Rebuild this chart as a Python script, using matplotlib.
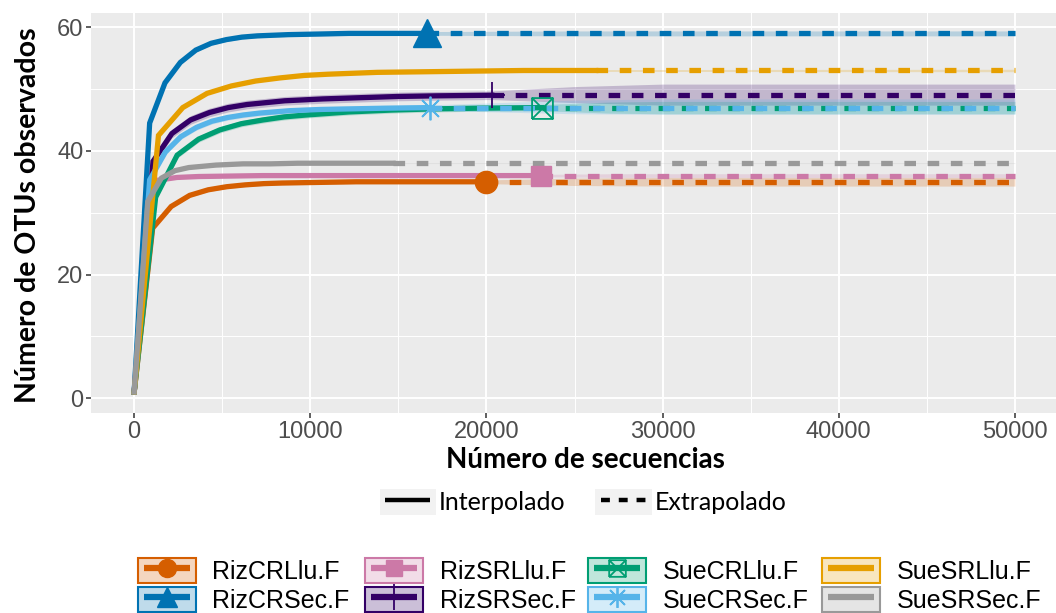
import numpy as np
import matplotlib.pyplot as plt
from matplotlib.colors import to_rgba
from matplotlib.legend_handler import HandlerLine2D
from matplotlib.lines import Line2D
from matplotlib.patches import Patch
from matplotlib.path import Path

# sample names and colours (legend order)
names = ['RizCRLlu.F', 'RizCRSec.F', 'RizSRLlu.F', 'RizSRSec.F',
         'SueCRLlu.F', 'SueCRSec.F', 'SueSRLlu.F', 'SueSRSec.F']
colors = ['#D55E00', '#0072B2', '#CC79A7', '#330066',
          '#009E73', '#56B4E9', '#E69F00', '#999999']

# interpolated (rarefaction) curves: sequences vs observed OTUs
orange_x = [1, 1050, 2100, 3150, 4200, 5250, 6300, 7350, 8400, 10500, 12600, 14700, 16800, 20000]
orange_y = [1, 27.5, 31.0, 32.8, 33.7, 34.2, 34.5, 34.7, 34.8, 34.9, 35.0, 35.0, 35.0, 35.0]
blue_x = [1, 880, 1750, 2620, 3500, 4370, 5240, 6120, 6990, 8740, 10500, 12200, 14000, 16600]
blue_y = [1, 44.5, 51.0, 54.3, 56.3, 57.4, 58.0, 58.4, 58.6, 58.8, 58.9, 59.0, 59.0, 59.0]
pink_x = [1, 1220, 2430, 3650, 4860, 6080, 7300, 8510, 9730, 12200, 14600, 17000, 19500, 23100]
pink_y = [1, 35.2, 35.7, 35.85, 35.9, 35.95, 36.0, 36.0, 36.0, 36.0, 36.0, 36.0, 36.0, 36.0]
purple_x = [1, 1070, 2140, 3200, 4270, 5340, 6410, 7480, 8550, 10700, 12800, 15000, 17100, 20300]
purple_y = [1, 38.3, 42.8, 45.0, 46.2, 47.0, 47.5, 47.8, 48.1, 48.4, 48.6, 48.8, 48.9, 49.0]
green_x = [1, 1220, 2440, 3660, 4870, 6090, 7310, 8530, 9750, 12200, 14600, 17100, 19500, 23150]
green_y = [1, 32.5, 39.3, 41.9, 43.4, 44.4, 45.0, 45.5, 45.8, 46.3, 46.6, 46.8, 46.9, 47.0]
sky_x = [1, 880, 1770, 2650, 3540, 4420, 5310, 6190, 7080, 8840, 10600, 12400, 14200, 16800]
sky_y = [1, 35.3, 39.8, 42.3, 43.8, 44.8, 45.4, 45.8, 46.1, 46.5, 46.7, 46.8, 46.9, 47.0]
yellow_x = [1, 1380, 2760, 4140, 5520, 6900, 8280, 9660, 11000, 13800, 16600, 19300, 22100, 26200]
yellow_y = [1, 42.5, 47.0, 49.3, 50.5, 51.3, 51.8, 52.2, 52.4, 52.7, 52.8, 52.9, 53.0, 53.0]
gray_x = [1, 770, 1550, 2320, 3100, 3870, 4640, 5420, 6190, 7740, 9290, 10800, 12400, 14700]
gray_y = [1, 31.8, 35.6, 36.8, 37.3, 37.5, 37.7, 37.8, 37.9, 37.9, 38.0, 38.0, 38.0, 38.0]

# half width of the confidence band along the interpolated part
band_in = [0.3, 0.3, 0.2, 0.7, 0.5, 0.45, 0.15, 0.05]

# extrapolated part (up to 50000 sequences) with its confidence band
orange_ex = [20000, 25000, 30000, 50000]
orange_lo = [34.6, 34.4, 34.3, 34.3]
orange_hi = [35.4, 35.6, 35.7, 35.7]
blue_ex = [16600, 25000, 30000, 50000]
blue_lo = [58.7, 58.6, 58.6, 58.6]
blue_hi = [59.3, 59.4, 59.4, 59.4]
pink_ex = [23100, 27000, 30000, 50000]
pink_lo = [35.8, 35.7, 35.7, 35.7]
pink_hi = [36.2, 36.3, 36.3, 36.3]
purple_ex = [20300, 25000, 30000, 50000]
purple_lo = [48.3, 47.8, 47.4, 47.4]
purple_hi = [49.7, 50.4, 50.8, 50.8]
green_ex = [23150, 27000, 30000, 50000]
green_lo = [46.5, 46.1, 46.0, 46.0]
green_hi = [47.5, 47.9, 48.0, 48.0]
sky_ex = [16800, 25000, 30000, 50000]
sky_lo = [46.4, 46.0, 45.9, 45.9]
sky_hi = [47.6, 48.2, 48.4, 48.4]
yellow_ex = [26200, 50000]
yellow_lo = [52.85, 52.8]
yellow_hi = [53.15, 53.2]
gray_ex = [14700, 50000]
gray_lo = [37.95, 37.95]
gray_hi = [38.05, 38.05]

xs = [orange_x, blue_x, pink_x, purple_x, green_x, sky_x, yellow_x, gray_x]
ys = [orange_y, blue_y, pink_y, purple_y, green_y, sky_y, yellow_y, gray_y]
exs = [orange_ex, blue_ex, pink_ex, purple_ex, green_ex, sky_ex, yellow_ex, gray_ex]
los = [orange_lo, blue_lo, pink_lo, purple_lo, green_lo, sky_lo, yellow_lo, gray_lo]
his = [orange_hi, blue_hi, pink_hi, purple_hi, green_hi, sky_hi, yellow_hi, gray_hi]

# point shapes: square with a cross drawn as a path, 8-ray asterisk
box_x = Path([(-1, -1), (1, -1), (1, 1), (-1, 1), (-1, -1),
              (-1, -1), (1, 1), (-1, 1), (1, -1)],
             [Path.MOVETO, Path.LINETO, Path.LINETO, Path.LINETO, Path.LINETO,
              Path.MOVETO, Path.LINETO, Path.MOVETO, Path.LINETO])
markers = ['o', '^', 's', '+', box_x, (8, 2, 0), None, None]
msizes = [16, 20, 15, 19, 15, 17, 0, 0]
key_ms = [13, 15, 12, 19, 12, 15, 0, 0]
thin = [False, False, False, True, True, True, False, False]


class KeyLine(HandlerLine2D):
    # legend line kept inside the key box
    def create_artists(self, legend, orig_handle, xdescent, ydescent, width,
                       height, fontsize, trans):
        pad = 0.22 * fontsize
        return super().create_artists(legend, orig_handle, xdescent - pad, ydescent,
                                      width - 2 * pad, height, fontsize, trans)


fig = plt.figure(figsize=(10.56, 6.13), dpi=100)
ax = fig.add_axes([91 / 1056, 1 - 413 / 613, 965 / 1056, 400 / 613])
ax.set_facecolor('#EBEBEB')
for s in ax.spines.values():
    s.set_visible(False)

ax.set_xlim(-2450, 52330)
ax.set_ylim(-2.4, 62.3)
ax.set_xticks([0, 10000, 20000, 30000, 40000, 50000])
ax.set_xticks([5000, 15000, 25000, 35000, 45000], minor=True)
ax.set_yticks([0, 20, 40, 60])
ax.set_yticks([10, 30, 50], minor=True)
ax.grid(which='major', color='white', lw=1.4)
ax.grid(which='minor', color='white', lw=0.7)
ax.set_axisbelow(True)
ax.tick_params(which='major', length=3.5, width=1.1, color='#333333',
               labelcolor='#4D4D4D', labelsize=17, pad=2)
ax.tick_params(which='minor', length=0)
for lab in ax.get_xticklabels() + ax.get_yticklabels():
    lab.set_family('Liberation Sans')

# confidence bands
for i in range(len(names)):
    bx = np.concatenate([xs[i], exs[i][1:]])
    yi = np.array(ys[i])
    lo = np.concatenate([yi - band_in[i], los[i][1:]])
    hi = np.concatenate([yi + band_in[i], his[i][1:]])
    lo[0] = ys[i][0]
    hi[0] = ys[i][0]
    ax.fill_between(bx, lo, hi, color=colors[i], alpha=0.22, lw=0)

# interpolated (solid) and extrapolated (dashed) curves
for i in range(len(names)):
    ax.plot(xs[i], ys[i], color=colors[i], lw=3.8, solid_joinstyle='miter')
    ex_y = [ys[i][-1]] * len(exs[i])
    ax.plot(exs[i], ex_y, color=colors[i], lw=3.8, dashes=(2.2, 2.2))

# observed sample points
for i in range(len(names)):
    if markers[i] is None:
        continue
    hollow = markers[i] is box_x
    ax.plot(xs[i][-1], ys[i][-1], marker=markers[i], ms=msizes[i], color=colors[i],
            mfc='none' if hollow else colors[i], mec=colors[i],
            mew=1.3 if thin[i] else 1, ls='none')

fig.text(28 / 1056, 1 - 215 / 613, 'Número de OTUs observados', rotation=90,
         ha='center', va='center', fontsize=20.5, fontweight='bold', family='Lato')
fig.text(585 / 1056, 1 - 460 / 613, 'Número de secuencias',
         ha='center', va='center', fontsize=20, fontweight='bold', family='Lato')

hmap = {Line2D: KeyLine()}

# line type legend
key_bg = dict(facecolor='#F2F2F2', edgecolor='none')
lt_handles = [(Patch(**key_bg), Line2D([], [], color='black', lw=3.2, solid_capstyle='butt')),
              (Patch(**key_bg), Line2D([], [], color='black', lw=3.2, dashes=(2.0, 2.0)))]
fig.legend(lt_handles, ['Interpolado', 'Extrapolado'], ncol=2, frameon=False,
           loc='center', bbox_to_anchor=(583 / 1056, 1 - 502 / 613), handler_map=hmap,
           prop={'family': 'Lato', 'size': 18}, handlelength=2.25, handleheight=1.25,
           handletextpad=0.12, columnspacing=1.2, borderpad=0)

# sample legend, one block per column
key_left = [138, 365, 588, 822]
for c in range(4):
    hs = []
    for i in (2 * c, 2 * c + 1):
        box = Patch(facecolor=to_rgba(colors[i], 0.25), edgecolor=colors[i], lw=1.5)
        hollow = markers[i] is box_x
        ln = Line2D([], [], color=colors[i], lw=4.5, solid_capstyle='butt',
                    marker=markers[i], ms=key_ms[i],
                    mfc='none' if hollow else colors[i], mec=colors[i],
                    mew=1.3 if thin[i] else 1)
        hs.append((box, ln))
    fig.legend(hs, names[2 * c:2 * c + 2], loc='upper left', handler_map=hmap,
               bbox_to_anchor=(key_left[c] / 1056, 1 - 558 / 613), frameon=False,
               prop={'family': 'Liberation Sans', 'size': 18}, handlelength=2.3,
               handleheight=1.15, handletextpad=0.68, labelspacing=0.12, borderpad=0,
               borderaxespad=0)

fig.savefig('out.png', dpi=100)
